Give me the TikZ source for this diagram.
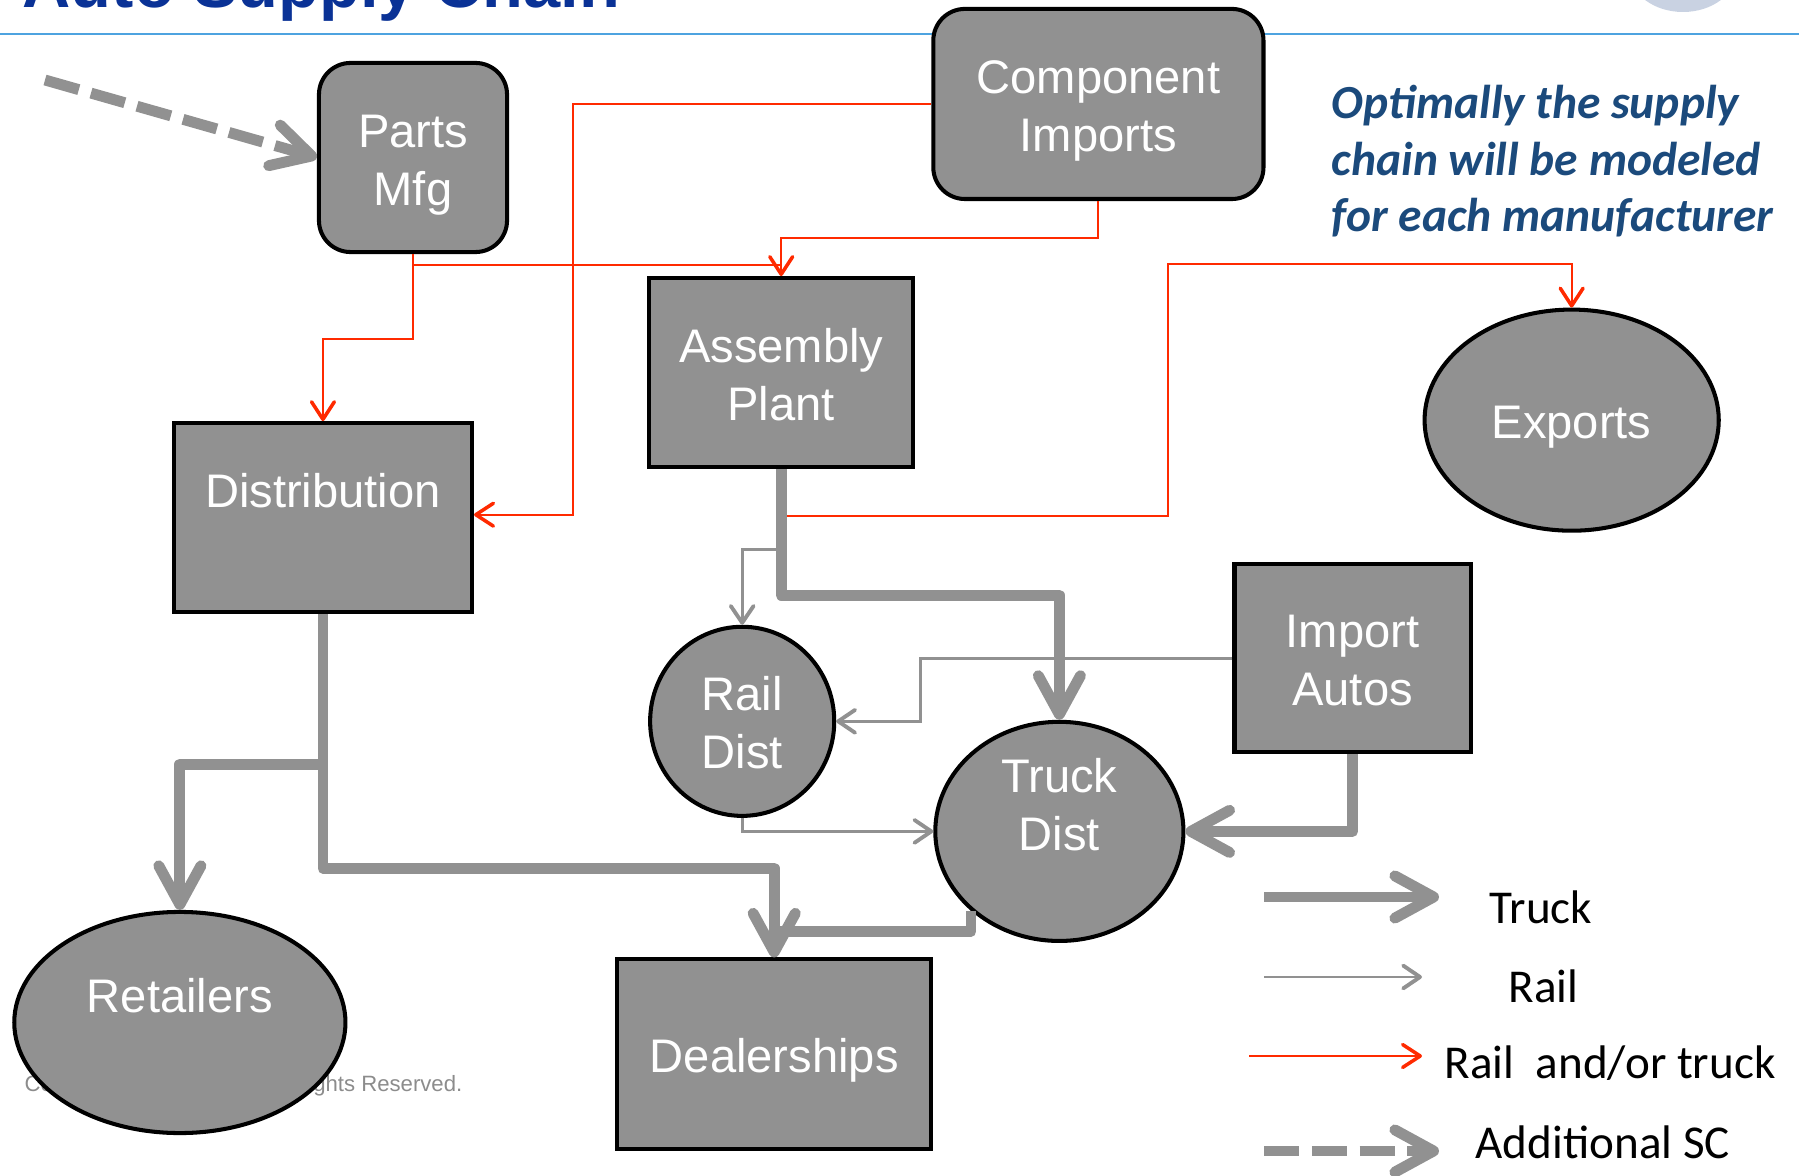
\documentclass[tikz,border=0pt]{standalone}
\usepackage{fontspec}
\setmainfont{Liberation Sans}
\newfontfamily\calibri{Carlito}
\usepackage{tikz}
\usetikzlibrary{positioning,arrows.meta,shapes.geometric,calc}
\definecolor{boxgray}{HTML}{919191}
\definecolor{railred}{HTML}{FF2A00}
\definecolor{notenavy}{HTML}{1B4A7C}
\definecolor{titleblue}{HTML}{0A3296}
\definecolor{ruleblue}{HTML}{4DA3E0}
\definecolor{logogray}{HTML}{C9D2E2}
\definecolor{copygray}{HTML}{8C8C8C}

\begin{document}
\begin{tikzpicture}[x=0.01cm, y=-0.01cm, on grid]
	\tikzset{
	  every node/.style={inner sep=0pt},
	  site/.style={draw=black, line width=1.15pt, fill=boxgray, text=white, align=center,
	    font=\fontsize{13.4}{16.5}\selectfont, text height=13.4pt, text depth=2.8pt},
	  twoline/.style={text height=29.9pt},
	  threeline/.style={text height=46.4pt},
	  plantbox/.style={site, rectangle},
	  roundbox/.style={site, rectangle, rounded corners=9pt},
	  hub/.style={site, ellipse, inner sep=-3pt},
	  truckflow/.style={draw=boxgray, line width=3.1pt, line join=round,
	    -{Straight Barb[length=11pt,width=12pt,round]}},
	  railflow/.style={draw=boxgray, line width=0.75pt,
	    -{Straight Barb[length=4.8pt,width=6.5pt,line width=1.1pt,round]}},
	  mixedflow/.style={draw=railred, line width=0.6pt,
	    -{Straight Barb[length=5pt,width=6.5pt,line width=1pt,round]}},
	  extraflow/.style={truckflow, dash pattern=on 10pt off 3.6pt},
	  keylabel/.style={anchor=base west, font=\calibri\fontsize{13.4}{16}\selectfont},
	};
	\useasboundingbox (0,0) rectangle (1799,1176);

	\fill[logogray] (1683,-28) ellipse [x radius=53, y radius=40];
	\draw[ruleblue, line width=0.8pt] (0,34) -- (1799,34);
	\node[anchor=base west, text=titleblue, font=\bfseries\fontsize{19}{23}\selectfont] (title) at (22,8) {Auto Supply Chain};
	\node[anchor=base west, text=copygray, font=\fontsize{6.3}{7.5}\selectfont] (copyleft) at (24,1091) {Co};
	\node[anchor=base east, text=copygray, font=\fontsize{6.3}{7.5}\selectfont] (copyright) at (463,1091) {ghts Reserved.};

	\node[roundbox, twoline, minimum width=1.88cm, minimum height=1.89cm] (parts) at (413,157.5) {Parts\\Mfg};
	\node[roundbox, twoline, minimum width=3.3cm, minimum height=1.9cm, above right=0.535cm and 6.85cm of parts] (comp) {Component\\Imports};
	\node[plantbox, twoline, minimum width=2.64cm, minimum height=1.89cm, below right=2.15cm and 3.68cm of parts] (asm) {Assembly\\Plant};
	\node[plantbox, twoline, minimum width=2.98cm, minimum height=1.89cm, below left=3.6cm and 0.9cm of parts] (dist) {Distribution\\~};
	\node[hub, minimum width=2.94cm, minimum height=2.21cm, below right=0.475cm and 7.9cm of asm] (exports) {Exports};
	\node[hub, twoline, minimum width=1.84cm, minimum height=1.89cm, below left=3.485cm and 0.39cm of asm] (raildist) {Rail\\Dist};
	\node[hub, threeline, minimum width=2.48cm, minimum height=2.19cm, below right=1.1cm and 3.17cm of raildist] (truckdist) {Truck\\Dist\\~};
	\node[plantbox, twoline, minimum width=2.36cm, minimum height=1.88cm, above right=1.73cm and 2.93cm of truckdist] (imports) {Import\\Autos};
	\node[hub, twoline, minimum width=3.31cm, minimum height=2.21cm, below left=5.045cm and 1.43cm of dist] (retail) {Retailers\\~};
	\node[plantbox, minimum width=3.14cm, minimum height=1.89cm, below left=2.225cm and 2.85cm of truckdist] (dealers) {Dealerships};

	\node[anchor=north west, align=left, text=notenavy,
	  font=\calibri\bfseries\itshape\fontsize{13.5}{16.2}\selectfont] (note) at (1331,84)
	  {Optimally the supply\\chain will be modeled\\for each manufacturer};

	\coordinate (scfrom) at (45,80);
	\coordinate (expfork) at ($(asm.south)+(0,46.5)$);
	\coordinate (railfork) at ($(asm.south)+(0,80)$);
	\coordinate (retfork) at ($(dist.south)+(0,150)$);
	\coordinate (asmjoin) at ($(asm.north)+(0,-11)$);
	\coordinate (dealjoin) at ($(dealers.north)+(0,-26)$);

	\draw[mixedflow] (parts.south) -- ++(0,85) -| (dist.north);
	\draw[mixedflow, -] (parts.south) |- (asmjoin);
	\draw[mixedflow] (comp.south) -- ++(0,37) -| (asm.north);
	\draw[mixedflow] (comp.west) -- ++(-358,0) |- ($(dist.east)+(0,-3)$);
	\draw[mixedflow] (expfork) -- ++(387,0) -- ++(0,-252) -| (exports.north);

	\draw[railflow] (railfork) -| (raildist.north);
	\draw[railflow] (imports.west) -- ++(-312,0) |- (raildist.east);
	\draw[railflow] (raildist.south) |- (truckdist.west);

	\draw[truckflow] (asm.south) -- ++(0,126) -| (truckdist.north);
	\draw[truckflow] (dist.south) -- ++(0,254) -| (dealers.north);
	\draw[truckflow] (retfork) -| (retail.north);
	\draw[truckflow, -] (truckdist.222) |- (dealjoin);
	\draw[truckflow] (imports.south) |- (truckdist.east);
	\draw[extraflow] (scfrom) -- (parts.west);

	\coordinate (keytruckA) at (1264,897);
	\coordinate (keytruckB) at (1439,897);
	\coordinate (keyrailA) at (1264,977);
	\coordinate (keyrailB) at (1422,977);
	\coordinate (keymixA) at (1249,1056);
	\coordinate (keymixB) at (1422,1056);
	\coordinate (keyextraA) at (1264,1151);
	\coordinate (keyextraB) at (1439,1151);
	\draw[truckflow] (keytruckA) -- (keytruckB);
	\draw[railflow] (keyrailA) -- (keyrailB);
	\draw[mixedflow] (keymixA) -- (keymixB);
	\draw[extraflow] (keyextraA) -- (keyextraB);
	\node[keylabel] (keytruck) at (1489,923) {Truck};
	\node[keylabel] (keyrail) at (1508,1002) {Rail};
	\node[keylabel] (keymix) at (1444,1078) {Rail~~and/or truck};
	\node[keylabel] (keyextra) at (1475,1158) {Additional SC};
\end{tikzpicture}
\end{document}
